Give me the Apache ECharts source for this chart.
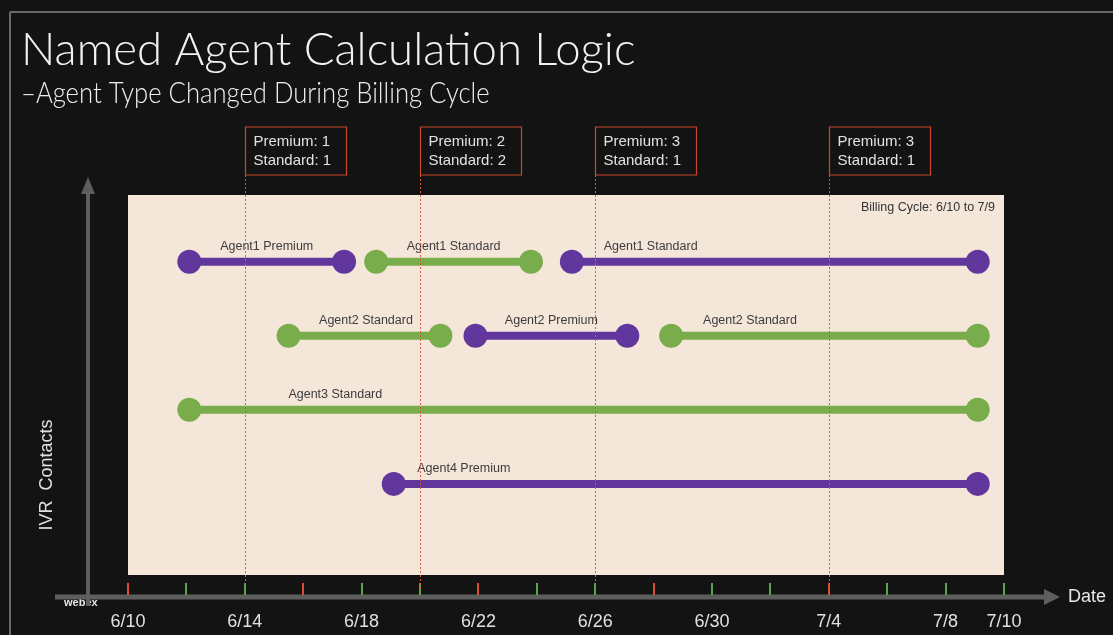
<!DOCTYPE html>
<html>
<head>
<meta charset="utf-8">
<script src="https://cdn.jsdelivr.net/npm/echarts@6/dist/echarts.min.js"></script>
<style>
html,body{margin:0;padding:0;background:#131313;}
#chart{width:1113px;height:635px;}
</style>
</head>
<body>
<div id="chart"></div>
<script>
// ---- data ----
// x values are days since 6/10 (6/10 = 0, 7/10 = 30)
const tickDays = [0, 4, 8, 12, 16, 20, 24, 28, 30];
const tickLabels = ['6/10', '6/14', '6/18', '6/22', '6/26', '6/30', '7/4', '7/8', '7/10'];
const minorTickDays = [2, 4, 8, 10, 14, 16, 20, 22, 26, 28, 30];
const weekTickDays = [0, 6, 12, 18, 24];

const agentRows = ['Agent4', 'Agent3', 'Agent2', 'Agent1']; // bottom -> top
const segAgent = ['Agent1', 'Agent1', 'Agent1', 'Agent2', 'Agent2', 'Agent2', 'Agent3', 'Agent4'];
const segText = ['Agent1 Premium', 'Agent1 Standard', 'Agent1 Standard', 'Agent2 Standard', 'Agent2 Premium', 'Agent2 Standard', 'Agent3 Standard', 'Agent4 Premium'];
const segKind = ['Premium', 'Standard', 'Premium', 'Standard', 'Premium', 'Standard', 'Standard', 'Premium'];
const segStart = [2.1, 8.5, 15.2, 5.5, 11.9, 18.6, 2.1, 9.1];
const segEnd = [7.4, 13.8, 29.1, 10.7, 17.1, 29.1, 29.1, 29.1];
const segLabelAt = [4.75, 11.15, 17.9, 8.15, 14.5, 21.3, 7.1, 11.5];

const checkDays = [4, 10, 16, 24];
const premiumCounts = [1, 2, 3, 3];
const standardCounts = [1, 2, 1, 1];

const titleText = 'Named Agent Calculation Logic';
const subtitleText = '–Agent Type Changed During Billing Cycle';
const billingText = 'Billing Cycle: 6/10 to 7/9';

// ---- chart ----
const kindColor = { Premium: '#61379e', Standard: '#79ad4b' };
const FONT = '"Liberation Sans", Arial, sans-serif';
const TITLE_FONT = 'Lato, "Open Sans", sans-serif';

const segData = segStart.map((s, i) => [s, segEnd[i], agentRows.indexOf(segAgent[i]) + 1, segLabelAt[i]]);
const checkData = checkDays.map((d, i) => [d, premiumCounts[i], standardCounts[i]]);
const tickData = minorTickDays.map(d => [d, 0]).concat(weekTickDays.map(d => [d, 1]));

const chart = echarts.init(document.getElementById('chart'));
chart.setOption({
  backgroundColor: '#131313',
  animation: false,
  grid: { left: 128, right: 109, top: 195, bottom: 60, show: true, backgroundColor: '#f5e6da', borderWidth: 0 },
  xAxis: {
    type: 'value', min: 0, max: 30,
    axisLine: { show: false }, splitLine: { show: false }, axisTick: { show: false },
    axisLabel: { show: true, customValues: tickDays, margin: 38, color: '#e0e0e0', fontSize: 18, fontFamily: FONT,
      formatter: v => { const k = tickDays.indexOf(v); return k >= 0 ? tickLabels[k] : ''; } }
  },
  yAxis: { type: 'value', min: -0.23, max: 4.9, show: false },
  graphic: [
    // frame
    { type: 'line', shape: { x1: 10, y1: 12, x2: 1113, y2: 12 }, style: { stroke: '#6a6a6a', lineWidth: 2 }, z: 1 },
    { type: 'line', shape: { x1: 10, y1: 12, x2: 10, y2: 635 }, style: { stroke: '#6a6a6a', lineWidth: 2 }, z: 1 },
    // titles
    { type: 'text', x: 21, y: 50, scaleX: 0.99, style: { text: titleText, fill: '#f2f2f2', font: '300 46px ' + TITLE_FONT, verticalAlign: 'middle' }, z: 2 },
    { type: 'text', x: 21, y: 93, scaleX: 0.855, style: { text: subtitleText, fill: '#eeeeee', font: '300 30px ' + TITLE_FONT, verticalAlign: 'middle' }, z: 2 },
    // webex mark
    { type: 'text', x: 64, y: 603, style: { text: 'webex', fill: '#e8e8e8', font: 'bold 11px ' + FONT, verticalAlign: 'middle' }, z: 1 },
    // axes drawn as arrows
    { type: 'line', shape: { x1: 55, y1: 597, x2: 1046, y2: 597 }, style: { stroke: '#5e5e5e', lineWidth: 5 }, z: 2 },
    { type: 'polygon', shape: { points: [[1044, 589], [1060, 597], [1044, 605]] }, style: { fill: '#5e5e5e' }, z: 2 },
    { type: 'line', shape: { x1: 88, y1: 606, x2: 88, y2: 190 }, style: { stroke: '#5e5e5e', lineWidth: 4 }, z: 2 },
    { type: 'polygon', shape: { points: [[81, 194], [88, 177], [95, 194]] }, style: { fill: '#5e5e5e' }, z: 2 },
    // axis titles
    { type: 'text', x: 1068, y: 597, style: { text: 'Date', fill: '#e6e6e6', font: '18px ' + FONT, verticalAlign: 'middle' }, z: 2 },
    { type: 'text', x: 47, y: 475, rotation: Math.PI / 2,
      style: { text: 'IVR  Contacts', fill: '#e0e0e0', font: '18px ' + FONT, align: 'center', verticalAlign: 'middle' }, z: 2 },
    // billing cycle note
    { type: 'text', x: 995, y: 208, style: { text: billingText, fill: '#333333', font: '12.5px ' + FONT, align: 'right', verticalAlign: 'middle' }, z: 5 }
  ],
  series: [
    { type: 'custom', name: 'segments', data: segData,
      encode: { x: [0, 1, 3], y: 2 },
      renderItem: (params, api) => {
        const i = params.dataIndex;
        const p1 = api.coord([api.value(0), api.value(2)]);
        const p2 = api.coord([api.value(1), api.value(2)]);
        const pl = api.coord([api.value(3), api.value(2)]);
        const c = kindColor[segKind[i]];
        return { type: 'group', children: [
          { type: 'line', shape: { x1: p1[0], y1: p1[1], x2: p2[0], y2: p2[1] }, style: { stroke: c, lineWidth: 8 } },
          { type: 'circle', shape: { cx: p1[0], cy: p1[1], r: 12 }, style: { fill: c } },
          { type: 'circle', shape: { cx: p2[0], cy: p2[1], r: 12 }, style: { fill: c } },
          { type: 'text', x: pl[0], y: p1[1] - 15.5, style: { text: segText[i], fill: '#3c3c3c', font: '12.5px ' + FONT, align: 'center', verticalAlign: 'middle' } }
        ] };
      }, z: 3 },
    { type: 'custom', name: 'axisTicks', data: tickData,
      encode: { x: 0 },
      renderItem: (params, api) => {
        const x = Math.round(api.coord([api.value(0), 0])[0]);
        const bottom = params.coordSys.y + params.coordSys.height;
        const color = api.value(1) === 1 ? '#d9512b' : '#5da34b';
        return { type: 'line', shape: { x1: x, y1: bottom + 8, x2: x, y2: bottom + 20 }, style: { stroke: color, lineWidth: 2 } };
      }, z: 3 },
    { type: 'custom', name: 'checkpoints', data: checkData,
      encode: { x: 0 },
      renderItem: (params, api) => {
        const x = api.coord([api.value(0), 0])[0];
        const top = params.coordSys.y;
        const bottom = params.coordSys.y + params.coordSys.height;
        const bx = Math.round(x) + 0.5;
        return { type: 'group', children: [
          { type: 'line', shape: { x1: bx, y1: top - 20, x2: bx, y2: bottom + 15 }, style: { stroke: '#dc5a3c', lineWidth: 1, lineDash: [2, 2] } },
          { type: 'rect', shape: { x: bx, y: top - 68, width: 101, height: 48 }, style: { fill: '#131313', stroke: '#c9472c', lineWidth: 1.2 } },
          { type: 'text', x: bx + 8, y: top - 53, style: { text: 'Premium: ' + api.value(1), fill: '#e2e2e2', font: '15px ' + FONT, verticalAlign: 'middle' } },
          { type: 'text', x: bx + 8, y: top - 34, style: { text: 'Standard: ' + api.value(2), fill: '#e2e2e2', font: '15px ' + FONT, verticalAlign: 'middle' } }
        ] };
      }, z: 4 }
  ]
});
</script>
</body>
</html>
